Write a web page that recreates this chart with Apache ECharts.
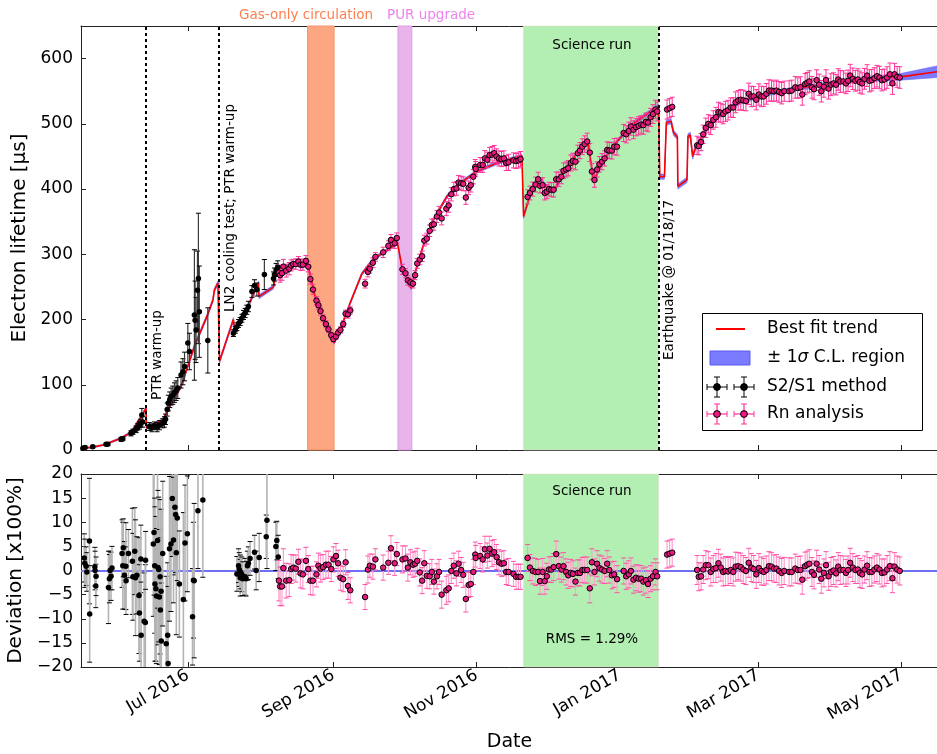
<!DOCTYPE html>
<html><head><meta charset="utf-8">
<script src="https://cdn.jsdelivr.net/npm/echarts@6/dist/echarts.min.js"></script>
<style>html,body{margin:0;padding:0;background:#fff}#c{width:937px;height:754px}</style>
</head><body><div id="c"></div>
<script>
// x values are days since 2016-07-01
const tickDays = [0, 62, 123, 184, 243, 304];
const tickLabels = ['Jul 2016', 'Sep 2016', 'Nov 2016', 'Jan 2017', 'Mar 2017', 'May 2017'];
const lifeTicks = [0, 100, 200, 300, 400, 500, 600];
const devTicks = [-20, -15, -10, -5, 0, 5, 10, 15, 20];
const gasBand = [51.0, 62.3];
const purBand = [89.5, 95.4];
const scienceBand = [142.9, 200.5];
const eventDays = [-17.8, 13.3, 200.5];

// best fit trend and its +-1 sigma half width
const fitDay = [-45.5,-40.8,-35.7,-28.5,-24.2,-19.9,-17.8,-17.6,-10.7,-7.8,-2.9,2.8,8.5,10.7,11.3,12.8,13.3,13.5,19.4,19.9,26.5,30.1,30.3,36.5,37.9,40.1,50.7,52.1,54.2,58.5,62.3,67.0,69.2,74.1,79.1,89.3,91.2,93.3,95.1,96.8,100.4,104.6,110.4,116.0,123.1,131.7,142.3,143.0,145.8,149.4,153.0,155.8,160.7,166.4,170.4,172.8,177.1,182.1,189.2,196.3,200.5,201.0,203.0,203.8,205.8,206.9,208.5,208.7,212.6,213.0,214.0,215.0,216.2,218.3,221.1,223.8,226.8,231.1,235.3,241.7,248.1,260.9,278.0,292.1,303.5,319.3];
const fitLife = [3,4,8,18,27,51,64,34,46,66,97,159,208,230,245,256,256,136,200,184,227,256,235,250,276,281,286,269,235,194,164,204,226,270,293,317,280,261,248,272,315,353,389,409,427,440,451,358,392,417,403,396,430,458,473,412,445,470,499,517,527,419,419,502,504,486,480,404,414,481,483,450,463,476,492,504,513,525,533,541,547,555,564,569,572,580];
const fitSigma = [1,1,1,1.5,2,2,2.5,2,2,2,2.5,3,3,3,3,3,3,3,3,3,3,3,3,3,3,2.5,2.5,2.5,2.5,2,2,2,2,2.5,2.5,2.5,2.5,2.5,2.5,2.5,2.5,2.5,2.5,2.5,2.5,2.5,2.5,3,3,3,3,3,3,3,3,3,3,3,3,3,3,4,4,4,4,4,4,4,4,4,4,4,3.5,3.5,3,3,3,3,3,3,3,3,3,4,5,9];

// S2/S1 method, lifetime panel
const s2Day = [-44.7,-43.8,-40.5,-34.8,-34.1,-28.4,-27.7,-24.2,-23.4,-22.0,-21.3,-20.6,-20.2,-19.6,-19.2,-16.4,-15.3,-14.2,-13.1,-12.1,-10.7,-10.0,-9.5,-8.8,-8.3,-7.7,-7.1,-6.4,-5.7,-5.0,-4.3,-2.9,-2.1,-1.4,0.0,0.7,2.8,3.1,3.5,4.1,4.5,4.9,8.5,19.4,20.2,20.9,21.6,22.3,23.0,23.7,24.4,25.1,25.8,27.3,28.4,29.4,32.6,36.5,36.9,37.6,38.3];
const s2Life = [2.6,4,5,8.7,9,16.4,17.4,25.6,28,31.7,35.8,38,41,53.7,43,36,34,37,35,38,41,43,47,62,72,77,82,84,88,91,95,115,120,128,164,151,207,199,184,245,263,212,168,179,184,189,194,197,202,207,210,215,220,243,252,246,269,263,269,276,280];
const s2Err = [2,2,2,2,2,3,3,4,4,5,5,6,6,10,8,6,6,6,7,7,7,8,8,10,12,12,13,14,15,15,16,20,20,22,30,28,100,60,50,60,100,70,50,5,5,6,6,6,6,7,7,7,8,9,9,10,23,10,10,10,10];

// S2/S1 method, deviation panel (%)
const s2DevDay = [-44.1,-43.9,-43.3,-43.0,-41.9,-41.8,-39.6,-39.5,-39.2,-39.1,-33.8,-33.4,-33.1,-32.7,-32.3,-28.0,-27.7,-27.5,-27.0,-26.4,-26.3,-25.3,-23.6,-23.4,-22.6,-22.3,-21.7,-20.8,-20.6,-20.0,-19.9,-18.6,-18.1,-18.0,-14.7,-14.4,-14.1,-14.0,-13.6,-13.4,-12.9,-12.7,-12.4,-12.1,-11.8,-11.7,-11.4,-11.3,-10.7,-9.2,-8.6,-8.4,-7.8,-7.2,-6.6,-6.1,-5.5,-5.2,-4.9,-4.5,-3.6,-1.9,-1.2,-0.2,2.0,2.4,2.7,4.3,6.4,20.9,21.6,21.9,22.3,22.4,23.0,23.4,24.4,24.8,25.4,25.8,26.5,28.4,29.1,30.4,33.4,33.7,37.5,37.9,38.5];
const s2Dev = [2.6,1.5,0.9,-0.3,6.1,-9.0,0.8,0,-3.2,-1.2,-3.5,-1.7,0,-1.2,0.5,3.5,1.0,4.7,-1.0,0.9,-2.1,3.5,1.9,-1.3,4.0,-1.5,-1.0,-5.2,-8.8,2.4,-13.4,-10.5,-10.8,2.1,5.5,7.9,1.0,-2.8,-3.8,-5.3,6.2,0.6,0.2,-5.5,-1.3,-8.2,-4.3,-14.6,3.5,-15.2,-13.4,-19.3,4.5,5.5,14.9,6.3,13.1,11.6,3.7,10.9,-2.8,-6.0,5.7,7.6,-9.6,-2.0,-2.1,12.4,14.6,-0.7,1.0,0.2,-1.5,-0.3,-0.8,-1.7,-1.3,-1.7,1.0,1.5,2.5,3.8,0,2.7,7.0,10.4,5.0,6.2,2.8];
const s2DevErr = [5,5,4,4,13,10,4,4,4.5,4,7.5,5,4,5,4.5,7,9,6,7,9,7,5,11,9,9,12,8,12,10,7,11,10,12,6,15,13,14,16,15,14,14,16,15,14,16,15,17,12,15,14,15,16,15,14,12,13,14,12,17,13,11,18,12,12,10,12,16,12,16,3.6,3.5,3.5,3.8,3.5,3.6,3.5,3.8,3.6,3.0,3.4,3.5,3.5,4.0,5.0,4.5,10,5,4,4.5];

// Rn analysis: day, lifetime (us), deviation (%), deviation uncertainty (%)
const rnDay = [38.8,39.3,40.1,40.7,41.9,43.2,44.0,44.9,46.0,47.1,48.0,49.0,50.3,51.3,52.2,53.3,54.8,55.6,56.5,57.6,58.8,59.9,61.1,62.0,63.1,64.0,65.0,66.2,67.2,68.2,69.2,75.5,76.7,77.5,78.8,79.9,
 83.2,85.4,86.5,88.1,89.0,91.4,92.7,93.7,94.8,95.9,96.8,97.7,98.8,99.8,100.7,101.8,103.0,103.9,104.8,106.1,107.0,108.1,110.1,111.1,112.2,113.3,114.4,115.3,116.4,117.3,118.4,119.6,120.5,121.6,122.4,122.6,124.5,125.6,126.5,127.6,128.5,129.6,130.5,131.5,132.5,133.6,134.6,135.6,136.6,138.7,139.8,140.8,141.7,
 144.7,145.7,146.9,148.1,149.2,150.0,151.1,152.0,152.9,153.8,154.8,155.8,156.9,158.0,159.1,160.0,161.1,162.0,163.1,164.0,165.1,166.1,167.0,168.0,169.0,170.1,171.2,172.1,173.2,174.3,175.3,176.4,177.5,178.6,179.5,180.6,181.6,182.8,185.6,186.7,187.8,188.7,189.8,190.9,192.0,193.1,194.0,195.1,196.0,197.1,198.1,199.2,199.9,
 204.1,205.2,206.3,
 216.9,217.6,218.6,219.5,220.6,221.7,222.7,223.8,224.9,226.0,227.0,228.0,229.0,230.1,231.2,232.3,233.3,234.4,235.5,236.6,237.7,238.9,240.0,241.0,242.1,243.2,244.3,245.3,246.4,247.5,248.6,249.6,250.7,251.8,252.9,254.0,256.1,257.2,258.7,259.8,260.9,261.7,262.9,263.8,264.7,265.8,266.7,267.8,268.9,269.8,270.9,271.8,272.9,273.9,275.0,276.1,277.0,277.9,279.2,280.3,281.2,282.1,283.2,284.3,285.4,286.2,287.2,288.2,289.3,290.3,291.3,292.4,293.5,294.6,295.6,296.7,297.8,299.0,300.1,301.0,302.1,303.2];
const rnLife = [272,268,271,281,275,278,283,285,285,289,284,284,290,281,262,246,229,222,213,202,193,185,176,170,174,180,184,193,209,208,214,255,273,278,287,296,
 303,313,322,317,325,277,271,260,257,255,268,286,292,297,321,324,336,345,346,358,364,355,370,375,392,400,401,410,409,408,387,402,406,419,434,431,437,437,447,445,452,453,455,450,447,446,447,440,441,444,443,444,446,
 388,394,400,407,415,405,406,394,396,400,399,399,415,415,419,428,430,432,440,443,442,455,459,465,469,473,456,427,414,430,438,442,447,460,459,459,465,465,486,484,489,496,491,495,497,499,498,503,502,510,515,522,519,
 522,524,526,
 467,466,472,484,494,500,498,506,510,518,517,515,519,521,525,525,533,536,537,536,535,546,542,542,537,545,542,542,546,551,551,550,551,549,547,550,550,551,556,555,556,545,561,563,565,556,553,567,560,550,557,567,554,560,562,560,568,565,565,562,566,574,569,566,568,564,562,569,574,566,567,570,573,571,567,568,571,576,562,576,572,571];
const rnDev = [-2.1,-3.3,-3.3,0.5,-2.1,-2.0,0.3,0.6,0.4,1.8,-0.6,-0.8,2.0,0.3,-2.1,-2.1,-0.8,1.0,0.4,0.7,1.2,1.2,0.3,2.3,3.0,1.5,-1.5,-1.8,1.7,-3.2,-4.1,-5.5,0.2,1.0,0.8,2.3,
 0.6,1.6,4.6,1.5,3.4,2.3,2.5,0.6,1.7,1.2,1.4,2.0,-0.4,-2.1,1.5,-1.1,-1.2,-0.3,-2.3,-1.2,-0.3,-5.0,-4.1,-3.7,-0.1,1.0,-0.6,1.4,0.1,-0.9,-5.9,-3.0,-2.8,-0.3,3.3,2.6,3.0,2.3,4.4,3.1,4.5,3.5,3.8,2.8,1.7,1.4,1.5,-0.3,-0.3,-0.7,-1.3,-1.3,-1.3,
 2.6,0.6,-0.1,-0.3,-0.3,-2.2,-0.3,-2.2,-1.2,0.2,0.2,0.7,3.4,0.9,0.2,0.9,-0.3,-1.0,-0.5,-0.7,-2.3,-0.5,-0.5,0.1,0.1,0.1,-3.7,1.7,-0.3,1.4,0.5,0.2,-0.1,1.4,0.1,-1.0,-0.8,-1.8,-0.1,-1.2,-0.8,-0.1,-1.9,-1.5,-1.7,-1.7,-2.3,-2.0,-2.8,-1.7,-1.2,-0.3,-1.2,
 3.3,3.5,3.7,
 0.1,-1.3,-1.2,0.2,1.1,1.1,-0.3,0.3,0.5,1.5,0.6,-0.3,-0.1,-0.2,0.1,-0.3,0.8,0.9,0.7,0.2,-0.1,1.6,0.6,0.3,-0.8,0.5,-0.1,-0.3,0.1,0.9,0.8,0.4,0.4,-0.1,-0.5,-0.1,-0.3,-0.3,0.4,0.1,0.1,-1.9,0.9,1.2,1.4,-0.3,-0.9,1.4,0.2,-1.7,-0.5,1.1,-1.2,-0.3,0,-0.6,0.8,0.1,0.1,-0.5,0.1,1.6,0.6,0.1,0.2,-0.5,-0.8,0.2,1.0,-0.3,-0.3,0.2,0.6,0.2,-0.5,-0.4,0.2,0.9,-1.6,0.8,0.2,-0.1];
const rnDevErr = [4.2,4.0,4.0,4.0,3.6,3.4,3.0,2.6,2.8,2.6,3.0,3.0,2.8,2.8,2.9,3.0,2.6,2.6,2.8,2.6,2.8,2.8,2.6,2.6,2.6,2.7,2.6,2.6,2.6,2.8,2.6,2.6,2.8,2.4,2.6,2.2,
 2.6,2.4,2.6,2.5,2.4,2.8,2.6,2.8,2.6,2.6,2.6,2.6,2.8,2.7,2.6,2.6,2.6,2.6,2.6,2.6,2.6,2.8,2.9,2.8,2.6,2.6,2.6,2.6,2.6,2.6,2.7,2.6,2.6,2.6,2.6,2.6,2.6,2.6,2.7,2.6,2.6,2.7,2.6,2.6,2.6,2.6,2.6,2.6,2.8,2.6,2.6,2.6,2.6,
 2.8,2.7,2.7,2.8,2.6,2.7,2.8,2.7,2.7,2.6,2.7,2.8,2.7,2.7,2.6,2.8,2.7,2.7,2.8,2.7,2.8,2.7,2.7,2.6,2.7,2.7,3.0,2.8,2.7,2.7,2.7,2.8,2.6,2.7,2.7,2.8,2.7,2.8,2.7,2.7,2.8,2.7,2.8,2.7,2.8,2.7,2.8,2.7,2.8,2.7,2.8,2.7,2.8,
 2.8,2.8,2.8,
 3.0,2.9,2.8,2.9,3.0,2.8,2.9,2.8,3.0,2.9,2.8,2.9,3.0,2.9,2.8,2.9,3.0,2.8,2.9,2.9,2.8,3.0,2.9,2.8,2.9,3.0,2.9,2.8,2.9,3.0,2.9,2.8,2.9,2.9,3.0,2.8,2.9,2.9,3.0,2.8,2.9,3.0,2.9,2.8,2.9,3.0,2.9,2.8,2.9,3.0,2.9,2.8,2.9,3.0,2.9,2.8,2.9,3.0,2.9,2.8,2.9,3.0,2.9,2.8,2.9,3.0,2.9,2.8,2.9,3.0,2.9,2.8,2.9,3.0,2.9,2.8,2.9,3.0,3.0,2.9,2.8,2.9];

const FONT = 'DejaVu Sans';
const xMin = -45.5, xMax = 319.5;

const fitData = fitDay.map((d, i) => [d, fitLife[i]]);
const bandData = fitDay.map((d, i) => [d, fitLife[i] - fitSigma[i], fitLife[i] + fitSigma[i]]);
const s2Top = s2Day.map((d, i) => [d, s2Life[i], s2Err[i]]);
const rnTop = rnDay.map((d, i) => [d, rnLife[i], rnLife[i] * rnDevErr[i] / 100]);
const s2Bot = s2DevDay.map((d, i) => [d, s2Dev[i], s2DevErr[i]]);
const rnBot = rnDay.map((d, i) => [d, rnDev[i], rnDevErr[i]]);

function errRender(lineColor, capColor, lw, cap) {
  return function (params, api) {
    const x = api.value(0), y = api.value(1), e = api.value(2);
    const a = api.coord([x, y + e]), b = api.coord([x, y - e]);
    return { type: 'group', children: [
      { type: 'line', shape: { x1: a[0], y1: a[1], x2: b[0], y2: b[1] }, style: { stroke: lineColor, lineWidth: lw } },
      { type: 'line', shape: { x1: a[0] - cap, y1: a[1], x2: a[0] + cap, y2: a[1] }, style: { stroke: capColor, lineWidth: 1 } },
      { type: 'line', shape: { x1: b[0] - cap, y1: b[1], x2: b[0] + cap, y2: b[1] }, style: { stroke: capColor, lineWidth: 1 } }
    ] };
  };
}

function xAxisDef(grid, pos, labels) {
  return {
    type: 'value', gridIndex: grid, position: pos, min: xMin, max: xMax,
    axisLine: { show: true, onZero: false, lineStyle: { color: '#222', width: 1 } },
    axisTick: { show: true, inside: true, length: 5, customValues: tickDays, lineStyle: { color: '#222' } },
    splitLine: { show: false },
    axisLabel: labels ? {
      show: true, customValues: tickDays, rotate: 30, margin: 7, fontSize: 17, fontFamily: FONT, color: '#000',
      formatter: v => { const i = tickDays.indexOf(v); return i >= 0 ? tickLabels[i] : ''; }
    } : { show: false },
    name: labels ? 'Date' : '', nameLocation: 'middle', nameGap: 66,
    nameTextStyle: { fontSize: 19, fontFamily: FONT, color: '#000' }
  };
}

function yAxisDef(grid, min, max, ticks, name, gap) {
  return {
    type: 'value', gridIndex: grid, min: min, max: max,
    axisLine: { show: true, onZero: false, lineStyle: { color: '#222', width: 1 } },
    axisTick: { show: true, inside: true, length: 5, customValues: ticks, lineStyle: { color: '#222' } },
    splitLine: { show: false },
    axisLabel: { show: true, customValues: ticks, margin: 8, fontSize: 17, fontFamily: FONT, color: '#000',
      formatter: v => String(v).replace('-', '\u2212') },
    name: name, nameLocation: 'middle', nameGap: gap,
    nameTextStyle: { fontSize: 20, fontFamily: FONT, color: '#000' }
  };
}

function errIcon(cx, cy, line, cap, fill) {
  return [
    { type: 'line', shape: { x1: cx - 10, y1: cy, x2: cx + 10, y2: cy }, style: { stroke: line, lineWidth: 1.2 } },
    { type: 'line', shape: { x1: cx, y1: cy - 10, x2: cx, y2: cy + 10 }, style: { stroke: line, lineWidth: 1.2 } },
    { type: 'line', shape: { x1: cx - 10, y1: cy - 3, x2: cx - 10, y2: cy + 3 }, style: { stroke: cap, lineWidth: 1 } },
    { type: 'line', shape: { x1: cx + 10, y1: cy - 3, x2: cx + 10, y2: cy + 3 }, style: { stroke: cap, lineWidth: 1 } },
    { type: 'line', shape: { x1: cx - 3, y1: cy - 10, x2: cx + 3, y2: cy - 10 }, style: { stroke: cap, lineWidth: 1 } },
    { type: 'line', shape: { x1: cx - 3, y1: cy + 10, x2: cx + 3, y2: cy + 10 }, style: { stroke: cap, lineWidth: 1 } },
    { type: 'circle', shape: { cx: cx, cy: cy, r: 3.4 }, style: { fill: fill, stroke: '#000', lineWidth: 1 } }
  ];
}

const txt = (t, x, y, opts) => Object.assign({ type: 'text', x: x, y: y, z: 100,
  style: Object.assign({ text: t, fontSize: 14, fontFamily: FONT, fill: '#000', align: 'center', verticalAlign: 'middle' }, opts && opts.style || {}) },
  opts && opts.el || {});

const chart = echarts.init(document.getElementById('c'), null, { renderer: 'canvas' });
chart.setOption({
  animation: false,
  backgroundColor: '#fff',
  grid: [
    { left: 81, top: 26, width: 857, height: 424, containLabel: false, outerBoundsMode: 'none' },
    { left: 81, top: 474, width: 857, height: 193, containLabel: false, outerBoundsMode: 'none' }
  ],
  xAxis: [xAxisDef(0, 'bottom', false), xAxisDef(0, 'top', false), xAxisDef(1, 'bottom', true), xAxisDef(1, 'top', false)],
  yAxis: [yAxisDef(0, 0, 650, lifeTicks, 'Electron lifetime [\u03bcs]', 47), yAxisDef(1, -20, 20, devTicks, 'Deviation [x100%]', 47)],
  series: [
    { type: 'line', xAxisIndex: 0, yAxisIndex: 0, data: [], z: 1, silent: true,
      markArea: { silent: true, data: [
        [{ xAxis: gasBand[0], itemStyle: { color: '#fca682', borderColor: '#f7946a', borderWidth: 1 } }, { xAxis: gasBand[1] }],
        [{ xAxis: purBand[0], itemStyle: { color: '#e8b4ea', borderColor: '#dc9ee0', borderWidth: 1 } }, { xAxis: purBand[1] }],
        [{ xAxis: scienceBand[0], itemStyle: { color: '#b3eeb3', borderColor: '#f0d8d0', borderWidth: 0.5 } }, { xAxis: scienceBand[1] }]
      ] } },
    { type: 'line', xAxisIndex: 2, yAxisIndex: 1, data: [], z: 1, silent: true,
      markArea: { silent: true, data: [
        [{ xAxis: scienceBand[0], itemStyle: { color: '#b3eeb3', borderColor: '#f0d8d0', borderWidth: 0.5 } }, { xAxis: scienceBand[1] }]
      ] } },
    { type: 'line', xAxisIndex: 2, yAxisIndex: 1, data: [], z: 3, silent: true,
      markLine: { silent: true, symbol: ['none', 'none'], label: { show: false },
        lineStyle: { color: '#6f6ff5', width: 2, type: 'solid' }, data: [{ yAxis: 0 }] } },
    { type: 'custom', xAxisIndex: 0, yAxisIndex: 0, data: bandData, z: 3, silent: true,
      renderItem: function (params, api) {
        if (params.dataIndex !== 0) return null;
        const up = [], lo = [];
        for (let i = 0; i < bandData.length; i++) {
          up.push(api.coord([bandData[i][0], bandData[i][2]]));
          lo.unshift(api.coord([bandData[i][0], bandData[i][1]]));
        }
        return { type: 'polygon', shape: { points: up.concat(lo) }, style: { fill: '#7b7bff', stroke: '#6a6af0', lineWidth: 0.6 } };
      } },
    { type: 'line', xAxisIndex: 0, yAxisIndex: 0, data: fitData, z: 4, silent: true, symbol: 'none',
      lineStyle: { color: '#ff0000', width: 1.6 } },
    { type: 'custom', xAxisIndex: 0, yAxisIndex: 0, data: s2Top, z: 5, silent: true, clip: true,
      renderItem: errRender('#3a3a3a', '#000', 1.2, 2.5) },
    { type: 'scatter', xAxisIndex: 0, yAxisIndex: 0, data: s2Top, z: 6, silent: true, symbolSize: 5.5,
      itemStyle: { color: '#000', opacity: 1 } },
    { type: 'custom', xAxisIndex: 0, yAxisIndex: 0, data: rnTop, z: 5, silent: true, clip: true,
      renderItem: errRender('#ff3399', '#ff3399', 1, 2.5) },
    { type: 'scatter', xAxisIndex: 0, yAxisIndex: 0, data: rnTop, z: 6, silent: true, symbolSize: 5.5,
      itemStyle: { color: '#e8197f', borderColor: '#000', borderWidth: 1, opacity: 1 } },
    { type: 'line', xAxisIndex: 0, yAxisIndex: 0, data: [], z: 7, silent: true,
      markLine: { silent: true, symbol: ['none', 'none'], label: { show: false },
        lineStyle: { color: '#000', width: 2, type: [3, 3] }, data: eventDays.map(d => ({ xAxis: d })) } },
    { type: 'custom', xAxisIndex: 2, yAxisIndex: 1, data: s2Bot, z: 5, silent: true, clip: true,
      renderItem: errRender('#b4b4b4', '#000', 1.6, 2.5) },
    { type: 'scatter', xAxisIndex: 2, yAxisIndex: 1, data: s2Bot, z: 6, silent: true, symbolSize: 5.5,
      itemStyle: { color: '#000', opacity: 1 } },
    { type: 'custom', xAxisIndex: 2, yAxisIndex: 1, data: rnBot, z: 5, silent: true, clip: true,
      renderItem: errRender('#ffa0cf', '#ff4fa7', 1.2, 2.5) },
    { type: 'scatter', xAxisIndex: 2, yAxisIndex: 1, data: rnBot, z: 6, silent: true, symbolSize: 5.5,
      itemStyle: { color: '#e8197f', borderColor: '#000', borderWidth: 1, opacity: 1 } }
  ],
  graphic: [
    txt('Gas-only circulation', 239, 15, { style: { fill: '#ff7f50', align: 'left', fontSize: 13.5 } }),
    txt('PUR upgrade', 387, 15, { style: { fill: '#ee82ee', align: 'left', fontSize: 13.5 } }),
    txt('Science run', 592, 45, { style: { fontSize: 13.5 } }),
    txt('Science run', 592, 491, { style: { fontSize: 13.5 } }),
    txt('RMS = 1.29%', 592, 639, { style: { fontSize: 13.5 } }),
    txt('PTR warm-up', 157, 355, { el: { rotation: Math.PI / 2 }, style: { fontSize: 13.5 } }),
    txt('LN2 cooling test; PTR warm-up', 230, 208, { el: { rotation: Math.PI / 2 }, style: { fontSize: 13.5 } }),
    txt('Earthquake @ 01/18/17', 669, 280, { el: { rotation: Math.PI / 2 }, style: { fontSize: 13.5 } }),
    { type: 'group', z: 100, children: [
      { type: 'rect', shape: { x: 702.5, y: 313.5, width: 220, height: 117 }, style: { fill: '#fff', stroke: '#000', lineWidth: 1 } },
      { type: 'line', shape: { x1: 716, y1: 329, x2: 745, y2: 329 }, style: { stroke: '#ff0000', lineWidth: 2 } },
      { type: 'rect', shape: { x: 710, y: 351, width: 40, height: 14 }, style: { fill: '#7b7bff', stroke: '#5a5af0', lineWidth: 1 } }
    ].concat(errIcon(717, 387, '#333', '#000', '#000'), errIcon(744, 387, '#333', '#000', '#000'),
             errIcon(717, 414, '#ff3399', '#ff3399', '#e8197f'), errIcon(744, 414, '#ff3399', '#ff3399', '#e8197f'),
      [
        { type: 'text', x: 767, y: 329, style: { text: 'Best fit trend', fontSize: 17, fontFamily: FONT, fill: '#000', verticalAlign: 'middle' } },
        { type: 'text', x: 767, y: 358, style: { text: '{a|\u00b1 1}{b|\u03c3}{a| C.L. region}', verticalAlign: 'middle',
          rich: { a: { fontSize: 17, fontFamily: FONT, fill: '#000' }, b: { fontSize: 17, fontFamily: FONT, fontStyle: 'italic', fill: '#000' } } } },
        { type: 'text', x: 767, y: 387, style: { text: 'S2/S1 method', fontSize: 17, fontFamily: FONT, fill: '#000', verticalAlign: 'middle' } },
        { type: 'text', x: 767, y: 414, style: { text: 'Rn analysis', fontSize: 17, fontFamily: FONT, fill: '#000', verticalAlign: 'middle' } }
      ]) }
  ]
});
</script>
</body></html>
